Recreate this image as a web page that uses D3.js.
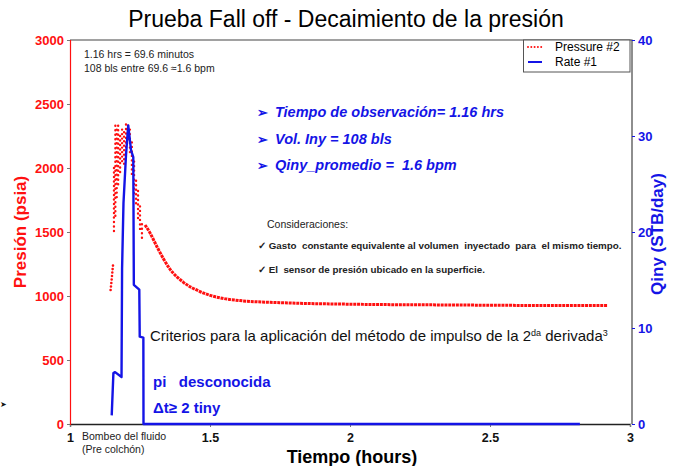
<!DOCTYPE html>
<html>
<head>
<meta charset="utf-8">
<script src="https://cdn.jsdelivr.net/npm/d3@7"></script>
<style>
  body { margin: 0; background: #fff; }
  svg { font-family: "Liberation Sans", Arial, sans-serif; }
</style>
</head>
<body>
<svg id="chart" width="674" height="466"></svg>
<script>
// tick values
var timeTicks = [1, 1.5, 2, 2.5, 3];
var pressureTicks = [0, 500, 1000, 1500, 2000, 2500, 3000];
var rateTicks = [0, 10, 20, 30, 40];

// Rate #1 (STB/day)
var rateTime  = [1.149, 1.155, 1.161, 1.184, 1.186, 1.191, 1.200, 1.208, 1.218, 1.226, 1.228, 1.2475, 1.249, 1.262, 1.2625, 2.821];
var rateValue = [0.9,   5.3,   5.4,   4.9,   16.2,  23.0,  28.0,  31.1,  28.5,  27.8,  14.5,  14.0,   9.1,   9.0,   0,      0];

// Pressure #2 (psia): first rise while pumping
var riseTime     = [1.145, 1.148, 1.151, 1.153, 1.155];
var risePressure = [1047, 1110, 1180, 1230, 1258];

// scattered readings around the peak: time, low, high
var burstTime = [1.157, 1.162, 1.167, 1.172, 1.179, 1.186, 1.193, 1.200, 1.207, 1.214, 1.221, 1.229, 1.236, 1.243, 1.250, 1.257];
var burstLow  = [1490, 1600, 1750, 1850, 1950, 2050, 2000, 2150, 2200, 2100, 1950, 1800, 1700, 1580, 1500, 1420];
var burstHigh = [2000, 2330, 2300, 2330, 2250, 2300, 2280, 2340, 2330, 2300, 2200, 2050, 1900, 1820, 1700, 1560];

// fall off
var decayTime     = [1.268, 1.286, 1.311, 1.357, 1.404, 1.464, 1.500, 1.550, 1.607, 1.750, 2.000, 2.357, 2.714, 2.921];
var decayPressure = [1555, 1492, 1383, 1210, 1109, 1035, 1005, 980, 964, 948, 936, 930, 926, 926];

var red = "#ff1010", blue = "#1414e6";

var svg = d3.select("#chart");
var mLeft = 70, mRight = 630, mTop = 40, mBottom = 424;

var x = d3.scaleLinear().domain([1, 3]).range([mLeft, mRight]);
var yP = d3.scaleLinear().domain([0, 3000]).range([mBottom, mTop]);
var yR = d3.scaleLinear().domain([0, 40]).range([mBottom, mTop]);

// title
svg.append("text")
    .attr("x", 346).attr("y", 27)
    .attr("text-anchor", "middle")
    .style("font-size", "23px")
    .text("Prueba Fall off - Decaimiento de la presión");

// frame (top and right)
svg.append("path")
    .attr("d", "M" + mLeft + "," + mTop + "H" + (mRight + 2) + "V" + mBottom)
    .attr("fill", "none").attr("stroke", "#444").attr("stroke-width", 1.2);

// bottom axis
var xAxis = svg.append("g")
    .attr("transform", "translate(0," + mBottom + ")")
    .call(d3.axisBottom(x).tickValues(timeTicks).tickSize(3).tickFormat(d3.format("")));
xAxis.select(".domain").attr("stroke", "#222").attr("stroke-width", 1.3);
xAxis.selectAll(".tick line").attr("stroke", "#777");
xAxis.selectAll(".tick text")
    .attr("dy", "0.95em")
    .style("font-size", "12.5px").style("font-weight", "bold").attr("fill", "#111");

// left axis (pressure)
var pAxis = svg.append("g")
    .attr("transform", "translate(" + mLeft + ",0)")
    .call(d3.axisLeft(yP).tickValues(pressureTicks).tickSize(3).tickPadding(3).tickFormat(d3.format("d")));
pAxis.select(".domain").attr("stroke", red).attr("stroke-width", 1.2);
pAxis.selectAll(".tick line").attr("stroke", "#777");
pAxis.selectAll(".tick text")
    .style("font-size", "13px").style("font-weight", "bold").attr("fill", red);

// right axis (rate)
var rAxis = svg.append("g")
    .attr("transform", "translate(" + (mRight + 2) + ",0)")
    .call(d3.axisRight(yR).tickValues(rateTicks).tickSize(3).tickPadding(3));
rAxis.select(".domain").remove();
rAxis.selectAll(".tick line").attr("stroke", blue);
rAxis.selectAll(".tick text")
    .style("font-size", "13px").style("font-weight", "bold").attr("fill", blue);

// axis titles
svg.append("text")
    .attr("transform", "translate(26,232) rotate(-90)")
    .attr("text-anchor", "middle")
    .style("font-size", "17px").style("font-weight", "bold").attr("fill", red)
    .text("Presión (psia)");
svg.append("text")
    .attr("transform", "translate(663,234) rotate(-90)")
    .attr("text-anchor", "middle")
    .style("font-size", "17px").style("font-weight", "bold").attr("fill", blue)
    .text("Qiny (STB/day)");
svg.append("text")
    .attr("x", 352).attr("y", 463)
    .attr("text-anchor", "middle")
    .style("font-size", "18px").style("font-weight", "bold")
    .text("Tiempo (hours)");

// pressure series
var lineP = d3.line()
    .x(function (d) { return x(d[0]); })
    .y(function (d) { return yP(d[1]); });

svg.append("path")
    .datum(d3.zip(riseTime, risePressure))
    .attr("d", lineP)
    .attr("fill", "none").attr("stroke", red).attr("stroke-width", 2.6)
    .attr("stroke-linecap", "round").attr("stroke-dasharray", "0 3.5");

svg.selectAll(".burst")
    .data(d3.range(burstTime.length))
    .enter().append("line")
    .attr("class", "burst")
    .attr("x1", function (i) { return x(burstTime[i]); })
    .attr("x2", function (i) { return x(burstTime[i]); })
    .attr("y1", function (i) { return yP(burstHigh[i]); })
    .attr("y2", function (i) { return yP(burstLow[i]); })
    .attr("stroke", red).attr("stroke-width", 2.4)
    .attr("stroke-linecap", "round").attr("stroke-dasharray", "0 4.5");

svg.append("path")
    .datum(d3.zip(decayTime, decayPressure))
    .attr("d", lineP.curve(d3.curveMonotoneX))
    .attr("fill", "none").attr("stroke", red).attr("stroke-width", 3)
    .attr("stroke-dasharray", "3 0.8");

// rate series
var lineR = d3.line()
    .x(function (d) { return x(d[0]); })
    .y(function (d) { return yR(d[1]); });

svg.append("path")
    .datum(d3.zip(rateTime, rateValue))
    .attr("d", lineR)
    .attr("fill", "none").attr("stroke", blue).attr("stroke-width", 2.4)
    .attr("stroke-linejoin", "round");

// legend
var lg = svg.append("g");
lg.append("rect")
    .attr("x", 523.5).attr("y", mTop).attr("width", mRight - 523.5).attr("height", 32)
    .attr("fill", "#fff").attr("stroke", "#555").attr("stroke-width", 1);
lg.append("line")
    .attr("x1", 528).attr("x2", 542).attr("y1", 47).attr("y2", 47)
    .attr("stroke", red).attr("stroke-width", 2)
    .attr("stroke-linecap", "round").attr("stroke-dasharray", "0 3.3");
lg.append("line")
    .attr("x1", 528).attr("x2", 542).attr("y1", 62).attr("y2", 62)
    .attr("stroke", blue).attr("stroke-width", 2);
lg.append("text").attr("x", 555).attr("y", 51)
    .style("font-size", "12px").text("Pressure #2");
lg.append("text").attr("x", 555).attr("y", 66)
    .style("font-size", "12px").text("Rate #1");

// notes in the upper left
svg.append("text").attr("x", 84).attr("y", 58)
    .style("font-size", "10.5px").attr("fill", "#222")
    .text("1.16 hrs = 69.6 minutos");
svg.append("text").attr("x", 84).attr("y", 72)
    .style("font-size", "10.5px").attr("fill", "#222")
    .text("108 bls entre 69.6  ≈1.6  bpm");

// blue highlights
var bullets = ["Tiempo de observación= 1.16 hrs", "Vol. Iny = 108 bls", "Qiny_promedio =  1.6 bpm"];
bullets.forEach(function (t, i) {
    var yy = 117 + i * 26.5;
    svg.append("text").attr("x", 257).attr("y", yy)
        .style("font-size", "13px").style("font-weight", "bold").attr("fill", blue).text("➢");
    svg.append("text").attr("x", 275).attr("y", yy)
        .style("font-size", "14.5px").style("font-weight", "bold").style("font-style", "italic")
        .style("white-space", "pre").attr("fill", blue).text(t);
});

// considerations
svg.append("text").attr("x", 267).attr("y", 228)
    .style("font-size", "10.5px").attr("fill", "#222").text("Consideraciones:");
["Gasto  constante equivalente al volumen  inyectado  para  el mismo tiempo.",
 "El  sensor de presión ubicado en la superficie."].forEach(function (t, i) {
    svg.append("text").attr("x", 258).attr("y", 249 + i * 24)
        .style("font-size", "9.8px").style("font-weight", "bold").attr("fill", "#222")
        .style("white-space", "pre").text("✓ " + t);
});

// criteria
var crit = svg.append("text").attr("x", 150).attr("y", 341)
    .style("font-size", "15px").attr("fill", "#111");
crit.append("tspan").text("Criterios para la aplicación del método de impulso de la 2");
crit.append("tspan").attr("dy", -5).style("font-size", "9px").text("da");
crit.append("tspan").attr("dy", 5).text(" derivada");
crit.append("tspan").attr("dy", -5).style("font-size", "9px").text("3");

svg.append("text").attr("x", 153).attr("y", 387)
    .style("font-size", "15px").style("font-weight", "bold").attr("fill", blue)
    .style("white-space", "pre").text("pi   desconocida");
svg.append("text").attr("x", 153).attr("y", 413)
    .style("font-size", "15px").style("font-weight", "bold").attr("fill", blue)
    .text("Δt≥ 2 tiny");

// pumping note under the axis
svg.append("text").attr("x", 82).attr("y", 440)
    .style("font-size", "10.5px").attr("fill", "#222").text("Bombeo del fluido");
svg.append("text").attr("x", 82).attr("y", 453)
    .style("font-size", "10.5px").attr("fill", "#222").text("(Pre colchón)");

// small arrow mark at the left edge
svg.append("text").attr("x", 0).attr("y", 407)
    .style("font-size", "8px").attr("fill", "#111").text("➤");
</script>
</body>
</html>
